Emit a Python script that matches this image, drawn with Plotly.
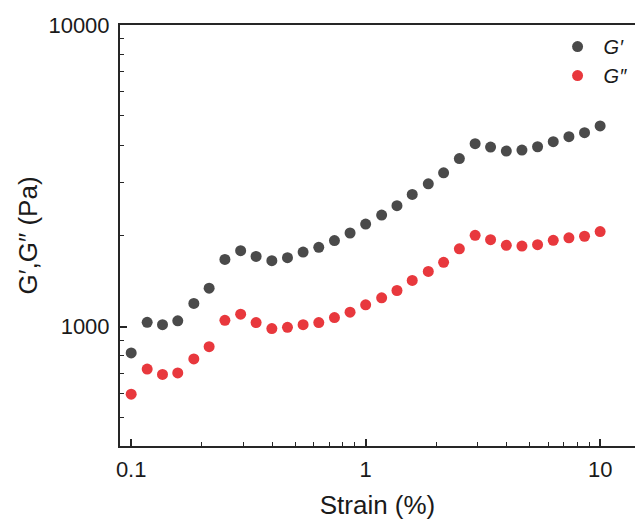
import plotly.graph_objects as go

strain = [0.1, 0.117, 0.136, 0.158, 0.185, 0.215, 0.251, 0.293, 0.341, 0.398,
          0.464, 0.541, 0.631, 0.736, 0.858, 1.0, 1.17, 1.36, 1.58, 1.85,
          2.15, 2.51, 2.93, 3.41, 3.98, 4.64, 5.41, 6.31, 7.36, 8.58, 10.0]

g_storage = [818, 1033, 1015, 1045, 1193, 1341, 1670, 1785, 1709, 1654,
             1692, 1766, 1831, 1929, 2043, 2187, 2343, 2516, 2742, 2973,
             3235, 3606, 4040, 3938, 3819, 3848, 3947, 4102, 4262, 4393, 4626]

g_loss = [597, 723, 694, 702, 781, 858, 1049, 1099, 1031, 985,
          994, 1015, 1031, 1071, 1116, 1181, 1246, 1317, 1422, 1524,
          1633, 1810, 2007, 1942, 1859, 1849, 1869, 1932, 1970, 1993, 2065]

x_tick_vals = [0.1, 1, 10]
x_tick_text = ["0.1", "1", "10"]
y_tick_vals = [1000, 10000]
y_tick_text = ["1000", "10000"]

FONT = "Liberation Sans, Arial, sans-serif"
AX = "#262626"

fig = go.Figure()
fig.add_trace(go.Scatter(x=strain, y=g_storage, mode="markers", name="<i>G′</i>",
                         marker=dict(color="#4a4a4a", size=11)))
fig.add_trace(go.Scatter(x=strain, y=g_loss, mode="markers", name="<i>G″</i>",
                         marker=dict(color="#e8383d", size=11)))

fig.update_layout(
    width=635, height=522,
    margin=dict(l=119.5, r=0, t=25, b=76.3, autoexpand=False),
    paper_bgcolor="white", plot_bgcolor="white",
    font=dict(family=FONT, color="#1a1a1a"),
    showlegend=True,
    legend=dict(x=0.838, y=0.995, xanchor="left", yanchor="top",
                bgcolor="rgba(255,255,255,0.9)", font=dict(size=20),
                tracegroupgap=0, itemwidth=42),
    xaxis=dict(
        type="log", range=[-1.0477, 1.1487], automargin=False,
        tickvals=x_tick_vals, ticktext=x_tick_text,
        ticks="inside", ticklen=7, tickwidth=1.5, tickcolor=AX,
        minor=dict(ticks="inside", ticklen=4, tickwidth=1.2, tickcolor=AX,
                   dtick="D1", showgrid=False),
        showline=True, linewidth=2, linecolor=AX, mirror=True,
        showgrid=False, zeroline=False,
        tickfont=dict(size=22), ticklabelstandoff=3,
        title=dict(text="Strain (%)", font=dict(size=26), standoff=14),
    ),
    yaxis=dict(
        type="log", range=[2.604, 4.0], automargin=False,
        tickvals=y_tick_vals, ticktext=y_tick_text,
        ticks="inside", ticklen=7, tickwidth=1.5, tickcolor=AX,
        minor=dict(ticks="inside", ticklen=4, tickwidth=1.2, tickcolor=AX,
                   dtick="D1", showgrid=False),
        showline=True, linewidth=2, linecolor=AX, mirror=False,
        showgrid=False, zeroline=False,
        tickfont=dict(size=22), ticklabelstandoff=4,
        title=dict(text="G′,G″ (Pa)", font=dict(size=26), standoff=3),
    ),
)

fig.write_html("out.html", config={"displayModeBar": False},
               post_script="document.body.style.margin='0';")
